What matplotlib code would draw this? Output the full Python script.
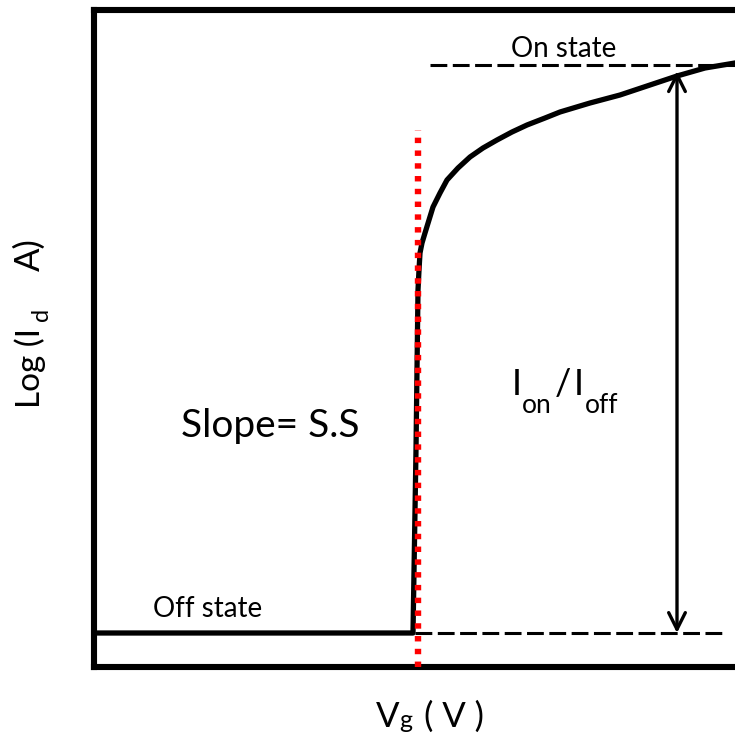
import matplotlib
matplotlib.use("Agg")
import matplotlib.pyplot as plt
import numpy as np

plt.rcParams['font.family'] = ['Lato', 'DejaVu Sans']

# Transfer curve (Vg, log Id) (pixel readings converted to data units)
curve_px_x = [93.5, 413, 416, 418, 419, 420, 422, 425, 429, 433, 440, 447, 458, 470, 483, 497,
              512, 527, 545, 560, 590, 620, 650, 677, 705, 735, 800]
curve_px_y = [633, 633, 450, 290, 270, 253, 243, 233, 220, 207, 193, 180, 168, 157, 148, 140,
              132, 125, 118, 112, 103, 95, 85, 76, 68, 63, 56]

W, H = 735, 738
left, right, top, bottom = 93.5, 800, 10, 667

vg = [(p - left) / (right - left) * 10 for p in curve_px_x]
log_id = [(bottom - p) / (bottom - top) * 10 for p in curve_px_y]

on_level = 9.163
off_level = 0.517
on_x = [4.763, 10.0]
off_x = [4.55, 8.967]
ss_x = 4.589
ss_top = 8.17
ratio_x = 8.259
ratio_top = 9.07

fig = plt.figure(figsize=(7.35, 7.38), dpi=100)
ax = fig.add_axes([left / W, 1 - bottom / H, (right - left) / W, (bottom - top) / H])
ax.set_xlim(0, 10)
ax.set_ylim(0, 10)
ax.set_xticks([])
ax.set_yticks([])
for s in ax.spines.values():
    s.set_linewidth(4.4)
    s.set_color('black')

ax.plot(on_x, [on_level] * 2, color='black', lw=2.2, dashes=(5.5, 1.8), zorder=2)
ax.plot(off_x, [off_level] * 2, color='black', lw=2.2, dashes=(5.5, 1.8), zorder=2)
ax.plot(vg, log_id, color='black', lw=3.8, solid_joinstyle='round', zorder=3)
ax.plot([ss_x, ss_x], [0, ss_top], color='#ff0000', lw=4.6, dashes=(0.85, 1.15),
        dash_capstyle='butt', zorder=4)

ax.annotate('', xy=(ratio_x, ratio_top), xytext=(ratio_x, off_level),
            arrowprops=dict(arrowstyle='<->', lw=2.4, color='black',
                            mutation_scale=30, shrinkA=0, shrinkB=0), zorder=5)


def ftxt(xp, yp, s, size, **kw):
    fig.text(xp / W, 1 - yp / H, s, fontsize=size, va='baseline', ha='left', **kw)


ftxt(511, 57, 'On state', 20)
ftxt(153, 617, 'Off state', 20)
ftxt(181, 437, 'Slope= S.S', 28)

# I_on / I_off
ftxt(512, 395, 'I', 26)
ftxt(522, 413, 'on', 19)
ftxt(555, 395, '/', 26)
ftxt(574, 395, 'I', 26)
ftxt(585, 413, 'off', 19)

# x label V_g ( V )
ftxt(376, 727, 'V', 25)
ftxt(399, 728, 'g', 18)
ftxt(424, 727, '( V )', 25)

# y label Log (I_d   A)
rk = dict(rotation=90, rotation_mode='anchor')
ftxt(40, 408, 'Log (I', 24, **rk)
ftxt(48, 321, 'd', 17, **rk)
ftxt(40, 271, 'A)', 25, **rk)

fig.savefig('out.png', dpi=100)
